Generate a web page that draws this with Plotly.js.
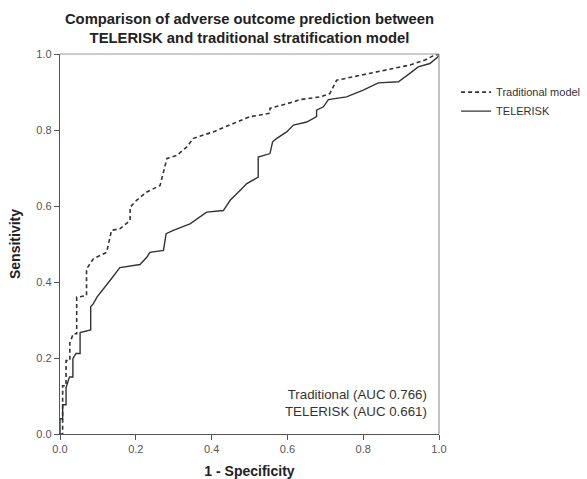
<!DOCTYPE html>
<html>
<head>
<meta charset="utf-8">
<script src="https://cdn.plot.ly/plotly-3.0.1.min.js"></script>
<style>html,body{margin:0;padding:0;background:#fff;}#chart{width:587px;height:479px;}</style>
</head>
<body>
<div id="chart"></div>
<script>
// Traditional model ROC curve (1 - specificity, sensitivity)
var tradFPR = [0, 0.007, 0.007, 0.016, 0.016, 0.026, 0.026, 0.035, 0.044, 0.044, 0.07, 0.07, 0.088, 0.123, 0.136, 0.158, 0.185, 0.185, 0.202, 0.229, 0.264, 0.282, 0.308, 0.334, 0.352, 0.404, 0.457, 0.501, 0.554, 0.554, 0.616, 0.633, 0.686, 0.712, 0.73, 0.774, 0.809, 0.858, 0.923, 0.963, 0.984, 1];
var tradTPR = [0, 0, 0.127, 0.127, 0.193, 0.193, 0.24, 0.264, 0.264, 0.36, 0.364, 0.434, 0.461, 0.478, 0.536, 0.54, 0.562, 0.597, 0.615, 0.637, 0.654, 0.725, 0.733, 0.755, 0.778, 0.795, 0.817, 0.835, 0.844, 0.857, 0.874, 0.88, 0.887, 0.896, 0.931, 0.94, 0.949, 0.958, 0.971, 0.984, 0.995, 1];
// TELERISK ROC curve
var telFPR = [0, 0, 0.007, 0.007, 0.016, 0.016, 0.025, 0.034, 0.034, 0.042, 0.053, 0.053, 0.081, 0.081, 0.088, 0.098, 0.132, 0.158, 0.211, 0.229, 0.237, 0.273, 0.28, 0.299, 0.343, 0.387, 0.431, 0.449, 0.475, 0.493, 0.523, 0.523, 0.554, 0.561, 0.572, 0.598, 0.616, 0.651, 0.677, 0.677, 0.695, 0.708, 0.756, 0.8, 0.84, 0.893, 0.923, 0.945, 0.976, 0.998, 1];
var telTPR = [0, 0.04, 0.04, 0.077, 0.077, 0.122, 0.15, 0.15, 0.198, 0.212, 0.212, 0.267, 0.274, 0.335, 0.343, 0.361, 0.404, 0.438, 0.446, 0.465, 0.478, 0.483, 0.527, 0.536, 0.553, 0.584, 0.588, 0.615, 0.641, 0.659, 0.676, 0.729, 0.738, 0.769, 0.778, 0.795, 0.813, 0.821, 0.835, 0.852, 0.861, 0.88, 0.887, 0.905, 0.924, 0.927, 0.949, 0.966, 0.975, 0.993, 1];
var seriesNames = ["Traditional model", "TELERISK"];
var aucLabels = ["Traditional (AUC 0.766)", "TELERISK (AUC 0.661)"];
var tickVals = [0, 0.2, 0.4, 0.6, 0.8, 1.0];

var FONT = '"Liberation Sans", Arial, sans-serif';
var traces = [
  {x: tradFPR, y: tradTPR, name: seriesNames[0], mode: 'lines', type: 'scatter',
   line: {color: '#333333', width: 1.6, dash: '4px,3px'}},
  {x: telFPR, y: telTPR, name: seriesNames[1], mode: 'lines', type: 'scatter',
   line: {color: '#333333', width: 1.4}}
];
var layout = {
  width: 587, height: 479,
  margin: {l: 60, r: 148, t: 54, b: 45, autoexpand: false},
  paper_bgcolor: '#fff', plot_bgcolor: '#fff',
  font: {family: FONT, color: '#333'},
  title: {text: '<b>Comparison of adverse outcome prediction between<br>TELERISK and traditional stratification model</b>',
          x: 0.5, xref: 'paper', xanchor: 'center', y: 0.950, yref: 'container', yanchor: 'top',
          font: {family: FONT, size: 14.8, color: '#222'}},
  xaxis: {range: [0, 1], tickvals: tickVals, tickformat: '.1f', showgrid: false, zeroline: false,
          showline: true, linecolor: '#555', linewidth: 1.2, ticks: 'outside', ticklen: 5, tickcolor: '#555',
          tickfont: {size: 11, color: '#555'},
          title: {text: '<b>1 - Specificity</b>', font: {size: 14, color: '#222'}, standoff: 13}},
  yaxis: {range: [0, 1], tickvals: tickVals, tickformat: '.1f', showgrid: false, zeroline: false,
          showline: true, linecolor: '#555', linewidth: 1.2, ticks: 'outside', ticklen: 5, tickcolor: '#555',
          tickfont: {size: 11, color: '#555'},
          title: {text: '<b>Sensitivity</b>', font: {size: 14, color: '#222'}, standoff: 12}},
  showlegend: true,
  legend: {x: 0.777, xref: 'container', xanchor: 'left', y: 0.838, yref: 'container', yanchor: 'top',
           font: {size: 11, color: '#333'}, tracegroupgap: 0, itemwidth: 30, bgcolor: 'rgba(0,0,0,0)'},
  shapes: [
    {type: 'line', xref: 'paper', yref: 'paper', x0: 0, x1: 1, y0: 1, y1: 1, line: {color: '#999', width: 1.2}},
    {type: 'line', xref: 'paper', yref: 'paper', x0: 1, x1: 1, y0: 0, y1: 1, line: {color: '#999', width: 1.2}}
  ],
  annotations: [
    {xref: 'paper', yref: 'paper', x: 0.973, y: 0.082, xanchor: 'right', yanchor: 'middle', align: 'right',
     text: aucLabels[0] + '<br>' + aucLabels[1], showarrow: false, font: {size: 13.3, color: '#333'}}
  ]
};
Plotly.newPlot('chart', traces, layout, {displayModeBar: false, staticPlot: true});
</script>
</body>
</html>
